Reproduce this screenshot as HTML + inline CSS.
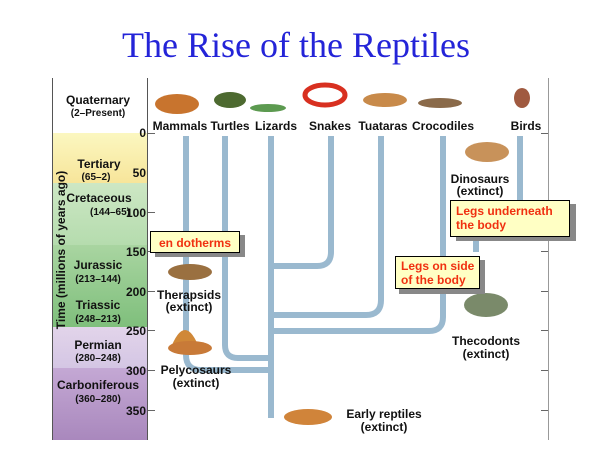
<!DOCTYPE html>
<html><head><meta charset="utf-8"><style>
body{margin:0;background:#fff;}
svg text{font-family:"Liberation Sans",sans-serif;font-weight:bold;}
</style></head><body>
<svg width="600" height="450" viewBox="0 0 600 450" xmlns="http://www.w3.org/2000/svg">
<defs>
<linearGradient id="g1" x1="0" y1="0" x2="0" y2="1"><stop offset="0" stop-color="#fbf7c0"/><stop offset="1" stop-color="#f7e59a"/></linearGradient>
<linearGradient id="g2" x1="0" y1="0" x2="0" y2="1"><stop offset="0" stop-color="#cde7c4"/><stop offset="1" stop-color="#b5dcae"/></linearGradient>
<linearGradient id="g3" x1="0" y1="0" x2="0" y2="1"><stop offset="0" stop-color="#a9d5a1"/><stop offset="1" stop-color="#7fbf7c"/></linearGradient>
<linearGradient id="g4" x1="0" y1="0" x2="0" y2="1"><stop offset="0" stop-color="#e2d4ea"/><stop offset="1" stop-color="#d4c6e4"/></linearGradient>
<linearGradient id="g5" x1="0" y1="0" x2="0" y2="1"><stop offset="0" stop-color="#c4a8d4"/><stop offset="1" stop-color="#a988bd"/></linearGradient>
</defs>
<text x="296" y="57" text-anchor="middle" style="font-family:'Liberation Serif',serif;font-weight:normal" font-size="36" fill="#2424d8">The Rise of the Reptiles</text>
<rect x="53" y="133" width="95" height="50" fill="url(#g1)"/>
<rect x="53" y="183" width="95" height="62" fill="url(#g2)"/>
<rect x="53" y="245" width="95" height="82" fill="url(#g3)"/>
<rect x="53" y="327" width="95" height="41" fill="url(#g4)"/>
<rect x="53" y="368" width="95" height="72" fill="url(#g5)"/>
<line x1="52.5" y1="78" x2="52.5" y2="440" stroke="#555" stroke-width="1"/>
<line x1="147.5" y1="78" x2="147.5" y2="440" stroke="#555" stroke-width="1"/>
<line x1="548.5" y1="78" x2="548.5" y2="440" stroke="#999" stroke-width="1"/>
<g stroke="#666" stroke-width="1">
<line x1="148" y1="133.5" x2="155" y2="133.5"/><line x1="148" y1="212.5" x2="155" y2="212.5"/><line x1="148" y1="251.5" x2="155" y2="251.5"/><line x1="148" y1="291.5" x2="155" y2="291.5"/><line x1="148" y1="330.5" x2="155" y2="330.5"/><line x1="148" y1="370.5" x2="155" y2="370.5"/><line x1="148" y1="410.5" x2="155" y2="410.5"/>
<line x1="541" y1="133.5" x2="548" y2="133.5"/><line x1="541" y1="212.5" x2="548" y2="212.5"/><line x1="541" y1="251.5" x2="548" y2="251.5"/><line x1="541" y1="291.5" x2="548" y2="291.5"/><line x1="541" y1="330.5" x2="548" y2="330.5"/><line x1="541" y1="370.5" x2="548" y2="370.5"/><line x1="541" y1="410.5" x2="548" y2="410.5"/>
</g>
<g font-size="12" text-anchor="end" fill="#111">
<text x="146" y="137">0</text><text x="146" y="177">50</text><text x="146" y="217">100</text><text x="146" y="256">150</text><text x="146" y="296">200</text><text x="146" y="335">250</text><text x="146" y="375">300</text><text x="146" y="415">350</text>
</g>
<g font-size="12" text-anchor="middle" fill="#111">
<text x="98" y="104">Quaternary</text><text x="98" y="116" font-size="10" font-weight="normal">(2–Present)</text>
<text x="99" y="168">Tertiary</text><text x="96" y="180" font-size="10" font-weight="normal">(65–2)</text>
<text x="99" y="202">Cretaceous</text><text x="110" y="215" font-size="10" font-weight="normal">(144–65)</text>
<text x="98" y="269">Jurassic</text><text x="98" y="282" font-size="10" font-weight="normal">(213–144)</text>
<text x="98" y="309">Triassic</text><text x="98" y="322" font-size="10" font-weight="normal">(248–213)</text>
<text x="98" y="349">Permian</text><text x="98" y="361" font-size="10" font-weight="normal">(280–248)</text>
<text x="98" y="389">Carboniferous</text><text x="98" y="402" font-size="10" font-weight="normal">(360–280)</text>
</g>
<text transform="translate(65,250) rotate(-90)" text-anchor="middle" font-size="12" fill="#111">Time (millions of years ago)</text>
<g fill="none" stroke="#9ab9cf" stroke-width="6">
<path d="M186 136 V355 Q186 370 201 370 H271"/>
<path d="M225 136 V345 Q225 358 238 358 H271"/>
<path d="M271 136 V418"/>
<path d="M331 136 V252 Q331 266 317 266 H271"/>
<path d="M381 136 V300 Q381 315 366 315 H271"/>
<path d="M443 136 V317 Q443 331 429 331 H271"/>
<path d="M520 136 V205 Q520 215 510 215 H486 Q476 215 476 225 V252"/>
</g>
<g>
<ellipse cx="177" cy="104" rx="22" ry="10" fill="#c8742e"/>
<ellipse cx="230" cy="100" rx="16" ry="8" fill="#4d6a30"/>
<ellipse cx="268" cy="108" rx="18" ry="4" fill="#5c9a50"/>
<ellipse cx="325" cy="95" rx="20" ry="10" fill="none" stroke="#d83020" stroke-width="5"/>
<ellipse cx="385" cy="100" rx="22" ry="7" fill="#c88a4a"/>
<ellipse cx="440" cy="103" rx="22" ry="5" fill="#8a6a4a"/>
<ellipse cx="522" cy="98" rx="8" ry="10" fill="#a05a40"/>
<ellipse cx="487" cy="152" rx="22" ry="10" fill="#c8925a"/>
<ellipse cx="486" cy="305" rx="22" ry="12" fill="#7a8a6a"/>
<ellipse cx="190" cy="272" rx="22" ry="8" fill="#9a7040"/>
<path d="M170 350 Q185 310 200 350 Z" fill="#d08838"/>
<ellipse cx="190" cy="348" rx="22" ry="7" fill="#c87a38"/>
<ellipse cx="308" cy="417" rx="24" ry="8" fill="#d0843a"/>
</g>
<g font-size="12" text-anchor="middle" fill="#111">
<text x="180" y="130">Mammals</text><text x="230" y="130">Turtles</text><text x="276" y="130">Lizards</text><text x="330" y="130">Snakes</text><text x="383" y="130">Tuataras</text><text x="443" y="130">Crocodiles</text><text x="526" y="130">Birds</text>
<text x="480" y="183">Dinosaurs</text><text x="480" y="195">(extinct)</text>
<text x="486" y="345">Thecodonts</text><text x="486" y="358">(extinct)</text>
<text x="189" y="299">Therapsids</text><text x="189" y="311">(extinct)</text>
<text x="196" y="374">Pelycosaurs</text><text x="196" y="387" font-weight="normal">(extinct)</text>
<text x="384" y="418">Early reptiles</text><text x="384" y="431" font-weight="normal">(extinct)</text>
</g>
<rect x="155" y="235" width="90" height="22" fill="#888"/>
<rect x="150.5" y="231.5" width="89" height="21" fill="#ffffc4" stroke="#000"/>
<text x="195" y="247" text-anchor="middle" font-size="12" fill="#f03010">en dotherms</text>
<rect x="456" y="204" width="120" height="37" fill="#888"/>
<rect x="450.5" y="200.5" width="119" height="36" fill="#ffffc4" stroke="#000"/>
<text x="456" y="215" font-size="12" fill="#f03010">Legs underneath</text>
<text x="456" y="229" font-size="12" fill="#f03010">the body</text>
<rect x="399" y="260" width="86" height="34" fill="#888"/>
<rect x="395.5" y="256.5" width="84" height="32" fill="#ffffc4" stroke="#000"/>
<text x="401" y="270" font-size="12" fill="#f03010">Legs on side</text>
<text x="401" y="284" font-size="12" fill="#f03010">of the body</text>
</svg>
</body></html>
